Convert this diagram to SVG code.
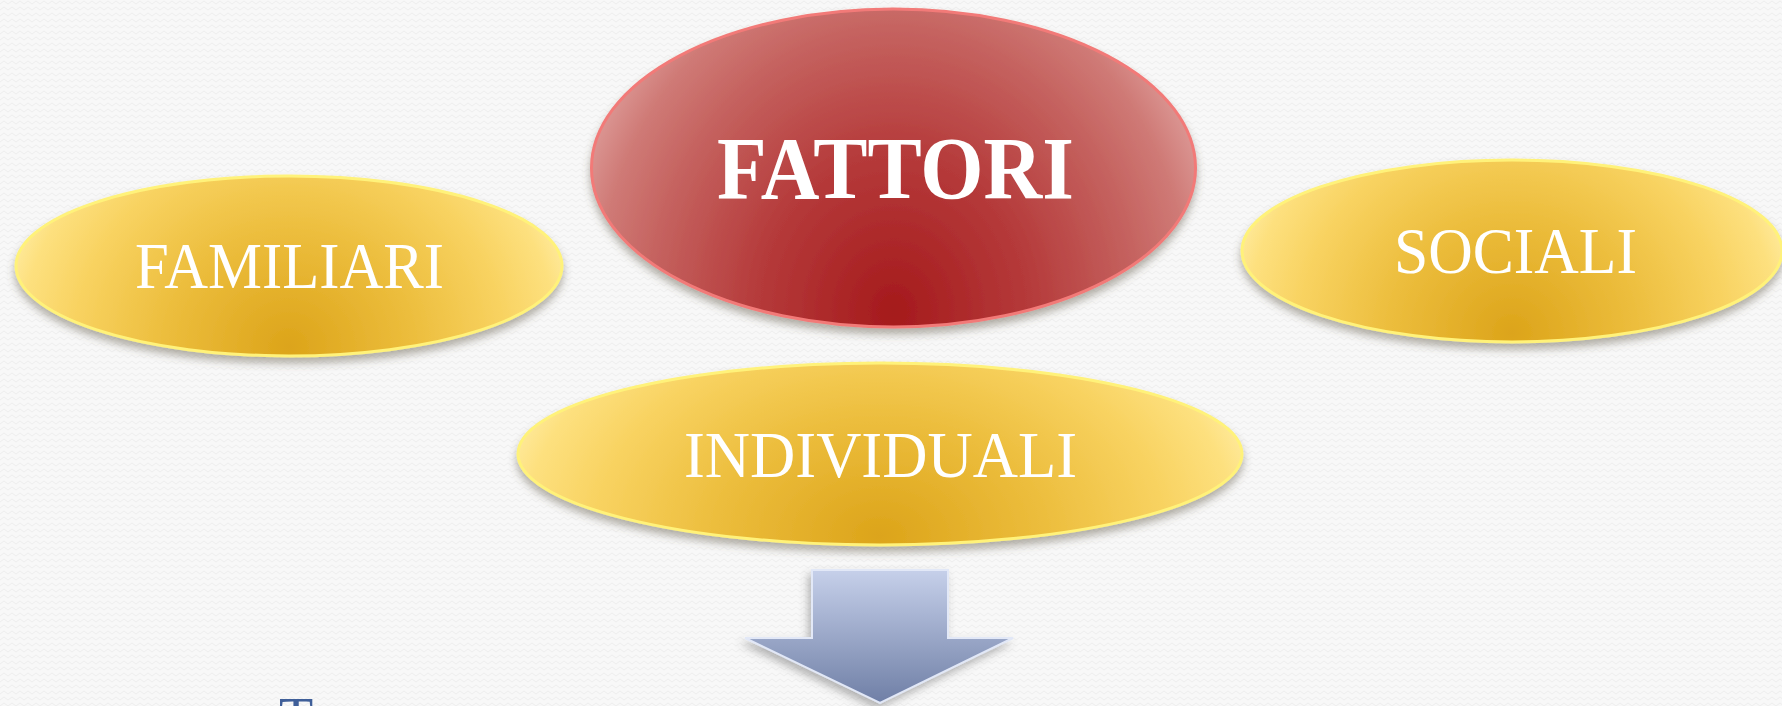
<svg xmlns="http://www.w3.org/2000/svg" width="1782" height="706" viewBox="0 0 1782 706">
<style>
.yel{fill:url(#gy);stroke:#fff27a;stroke-width:3;filter:url(#sh)}
.red{fill:url(#gr);stroke:#f27a78;stroke-width:3;filter:url(#sh)}
.lbl{font-family:"Liberation Serif","DejaVu Serif",serif;fill:#ffffff;text-anchor:start}
.big{font-weight:bold}
.bot{font-family:"Liberation Serif","DejaVu Serif",serif;fill:#3f5f99}
</style>
<defs>
<pattern id="zz" width="8" height="6" patternUnits="userSpaceOnUse">
<rect width="8" height="6" fill="#f8f8f8"/>
<path d="M0 4 L4 1 L8 4" fill="none" stroke="#eeeeee" stroke-width="1"/>
</pattern>
<radialGradient id="gy" cx="0.5" cy="0.95" r="0.56" fx="0.5" fy="0.95" gradientTransform="translate(0.5 0.95) scale(1 2.8) translate(-0.5 -0.95)">
<stop offset="0" stop-color="#dca41a"/>
<stop offset="0.4" stop-color="#ecbd3c"/>
<stop offset="0.7" stop-color="#f8d260"/>
<stop offset="0.88" stop-color="#fde07e"/>
<stop offset="1" stop-color="#ffeeaa"/>
</radialGradient>
<radialGradient id="gr" cx="0.5" cy="0.95" r="0.56" fx="0.5" fy="0.95" gradientTransform="translate(0.5 0.95) scale(1 2.2) translate(-0.5 -0.95)">
<stop offset="0" stop-color="#a51a1c"/>
<stop offset="0.4" stop-color="#b53a3a"/>
<stop offset="0.7" stop-color="#c4605d"/>
<stop offset="0.88" stop-color="#cf7a76"/>
<stop offset="1" stop-color="#dc9996"/>
</radialGradient>
<linearGradient id="ga" x1="0" y1="0" x2="0" y2="1">
<stop offset="0" stop-color="#c6d0ea"/>
<stop offset="1" stop-color="#6f7fa6"/>
</linearGradient>
<filter id="sh" x="-10%" y="-10%" width="120%" height="130%">
<feDropShadow dx="0" dy="6" stdDeviation="4" flood-color="#5a5440" flood-opacity="0.45"/>
</filter>
<filter id="sha" x="-20%" y="-20%" width="140%" height="140%">
<feDropShadow dx="-3" dy="5" stdDeviation="4" flood-color="#505050" flood-opacity="0.4"/>
</filter>
</defs>
<rect width="1782" height="706" fill="url(#zz)"/>
<g id="node-familiari">
<ellipse class="yel" cx="289" cy="266" rx="273" ry="90"/>
<text class="lbl" x="135" y="288" font-size="65" textLength="309" lengthAdjust="spacingAndGlyphs">FAMILIARI</text>
</g>
<g id="node-sociali">
<ellipse class="yel" cx="1512" cy="251" rx="270" ry="91"/>
<text class="lbl" x="1394" y="273" font-size="65" textLength="243" lengthAdjust="spacingAndGlyphs">SOCIALI</text>
</g>
<g id="node-individuali">
<ellipse class="yel" cx="880" cy="454" rx="362" ry="91"/>
<text class="lbl" x="684" y="477" font-size="66" textLength="393" lengthAdjust="spacingAndGlyphs">INDIVIDUALI</text>
</g>
<g id="node-fattori">
<ellipse class="red" cx="893.5" cy="168" rx="302" ry="159"/>
<text class="lbl big" x="717" y="198" font-size="88" textLength="357" lengthAdjust="spacingAndGlyphs">FATTORI</text>
</g>
<g id="connectors">
<polygon points="812,570 948,570 948,638 1013,638 880,703 745,638 812,638" fill="url(#ga)" stroke="#e2e8f7" stroke-width="2" filter="url(#sha)"/>
</g>
<text class="bot" x="279" y="737" font-size="56">T</text>
</svg>
